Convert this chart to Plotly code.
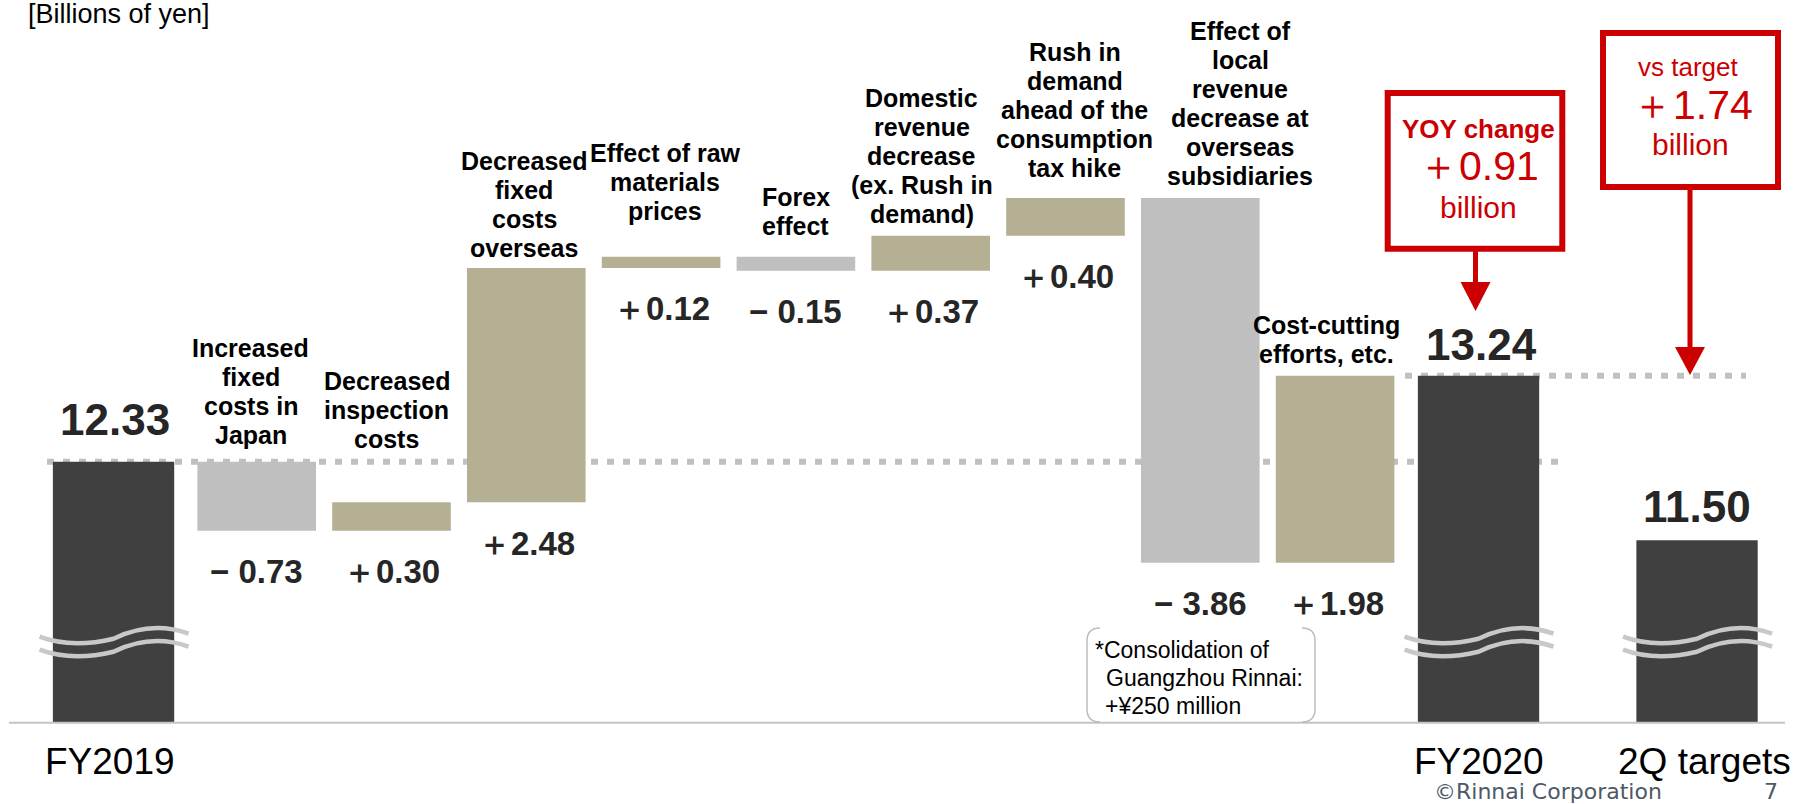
import plotly.graph_objects as go

# ---------------- data ----------------
start_label = "FY2019"
start_value = 12.33
step_labels = [
    "Increased<br>fixed<br>costs in<br>Japan",
    "Decreased<br>inspection<br>costs",
    "Decreased<br>fixed<br>costs<br>overseas",
    "Effect of raw<br>materials<br>prices",
    "Forex<br>effect",
    "Domestic<br>revenue<br>decrease<br>(ex. Rush in<br>demand)",
    "Rush in<br>demand<br>ahead of the<br>consumption<br>tax hike",
    "Effect of<br>local<br>revenue<br>decrease at<br>overseas<br>subsidiaries",
    "Cost-cutting<br>efforts, etc.",
]
step_values = [-0.73, 0.30, 2.48, 0.12, -0.15, 0.37, 0.40, -3.86, 1.98]
end_label = "FY2020"
end_value = 13.24
target_label = "2Q targets"
target_value = 11.50
unit_text = "[Billions of yen]"
note_lines = ["*Consolidation of", "Guangzhou Rinnai:", "+¥250 million"]
footer_text = "©Rinnai Corporation"
page_no = "7"

yoy_change = round(end_value - start_value, 2)
vs_target = round(end_value - target_value, 2)

# ---------------- layout constants ----------------
W, H = 1806, 804
ML, MR, MT, MB = 9, 21, 0, 82
PLOT_W = W - ML - MR
PLOT_H = H - MT - MB
UNIT = 134.8          # px per slot
X0_PX = 121.9         # px of slot 0
PPB = 94.5            # px per billion yen
REF_PY = 461.7        # px of the FY2019 level
x_slots = [-0.062, 1, 2, 3, 4, 5, 6, 7, 8, 9, 10.064, 11.685]
bar_width = 0.88
total_width = 0.9

DARK = "#404040"
GRAY = "#bfbfbf"
KHAKI = "#b5b093"
RED = "#cc0000"
DOT = "#c0c0c0"
TXT = "Liberation Sans, Arial, sans-serif"
NUM = "Liberation Sans Narrow, Arial Narrow, Liberation Sans, Arial, sans-serif"


def sx(slot):
    return X0_PX + slot * UNIT


def vy(v):
    return REF_PY - (v - start_value) * PPB


def xp(px):
    return (px - ML) / PLOT_W


def yp(py):
    return (MT + PLOT_H - py) / PLOT_H


def ann(text, px, py, size, color="#000000", family=TXT, weight="normal",
        xanchor="center", yanchor="middle"):
    return dict(text=text, x=xp(px), y=yp(py), xref="paper", yref="paper",
                showarrow=False, xanchor=xanchor, yanchor=yanchor,
                font=dict(size=size, color=color, family=family, weight=weight))


# ---------------- traces ----------------
wf_x = x_slots[:11]
wf_y = [start_value] + step_values + [0]
wf_measure = ["absolute"] + ["relative"] * len(step_values) + ["total"]
wf_width = [total_width] + [bar_width] * len(step_values) + [total_width]

fig = go.Figure()
fig.add_trace(go.Waterfall(
    x=wf_x, y=wf_y, measure=wf_measure, width=wf_width,
    increasing=dict(marker=dict(color=KHAKI, line=dict(width=0))),
    decreasing=dict(marker=dict(color=GRAY, line=dict(width=0))),
    totals=dict(marker=dict(color=DARK, line=dict(width=0))),
    connector=dict(visible=False), textinfo="none", hoverinfo="skip",
    showlegend=False,
))
fig.add_trace(go.Bar(
    x=[x_slots[11]], y=[target_value], width=total_width,
    marker=dict(color=DARK, line=dict(width=0)), hoverinfo="skip",
    showlegend=False,
))

# ---------------- annotations ----------------
annotations = []
shapes = []

# cumulative levels
levels = [start_value]
for v in step_values:
    levels.append(round(levels[-1] + v, 2))

label_lift = [18, 54, 11, 37, 22, 13, 21, 13, 13]
label_dx = [-6, -5, -2, 4, 0, -9, 9, 40, -9]
LINE_PITCH = 29
for k, (lab, v) in enumerate(zip(step_labels, step_values)):
    slot = x_slots[k + 1]
    prev, cur = levels[k], levels[k + 1]
    top, bottom = max(prev, cur), min(prev, cur)
    lines = lab.split("<br>")
    n = len(lines)
    for i, line in enumerate(lines):
        base = vy(top) - label_lift[k] - (n - 1 - i) * LINE_PITCH
        annotations.append(ann(line, sx(slot) + label_dx[k], base - 9, 25,
                               weight="bold"))
    vtxt = f"＋{v:.2f}" if v > 0 else f"− {abs(v):.2f}"
    annotations.append(ann(vtxt, sx(slot), vy(bottom) + 41, 33, "#262626",
                           NUM, "bold"))

# totals
annotations.append(ann(f"{start_value:.2f}", sx(x_slots[0]) + 1,
                       vy(start_value) - 42, 44, "#262626", NUM, "bold"))
annotations.append(ann(f"{end_value:.2f}", sx(x_slots[10]) + 2.5,
                       vy(end_value) - 31, 44, "#262626", NUM, "bold"))
annotations.append(ann(f"{target_value:.2f}", sx(x_slots[11]),
                       vy(target_value) - 34, 44, "#262626", NUM, "bold"))

# category tick labels
for slot, lab, dx in [(x_slots[0], start_label, -4), (x_slots[10], end_label, 0),
                      (x_slots[11], target_label, 7.5)]:
    annotations.append(ann(lab, sx(slot) + dx, 761.5, 37))

# unit text
annotations.append(ann(unit_text, 26, 14, 27, xanchor="left"))

# note
for txt, lx, cy in zip(note_lines, [1093, 1104, 1103], [650, 678, 706]):
    annotations.append(ann(txt, lx, cy, 23, xanchor="left"))

# red boxes text
cx1 = sx(x_slots[10])
cx2 = sx(x_slots[11]) - 7
annotations += [
    ann("YOY change", cx1, 129, 26, RED, TXT, "bold"),
    ann(f"＋{yoy_change:.2f}", cx1, 166, 41, RED, NUM),
    ann("billion", cx1, 207, 30, RED),
    ann("vs target", cx2 - 2, 67, 26, RED),
    ann(f"＋{vs_target:.2f}", cx2 + 2, 105, 41, RED, NUM),
    ann("billion", cx2, 145, 30, RED),
]

# footer
annotations.append(ann(footer_text, 1432, 791, 22, "#4d5966",
                       "DejaVu Sans, sans-serif", xanchor="left"))
annotations.append(ann(page_no, 1771, 791, 22, "#4d5966",
                       "DejaVu Sans, sans-serif"))

# ---------------- shapes ----------------
# dotted reference lines (behind bars)
shapes.append(dict(type="line", xref="paper", yref="y",
                   x0=xp(47), x1=xp(1560), y0=start_value, y1=start_value,
                   layer="below", line=dict(color=DOT, width=6, dash="7px,9px")))
shapes.append(dict(type="line", xref="paper", yref="y",
                   x0=xp(1405), x1=xp(1746), y0=levels[-1], y1=levels[-1],
                   layer="below", line=dict(color=DOT, width=6, dash="7px,9px")))

# base line
shapes.append(dict(type="line", xref="paper", yref="paper",
                   x0=0, x1=1, y0=yp(722.7), y1=yp(722.7),
                   line=dict(color="#c4c4c4", width=2)))


def squiggle(cx, y0):
    pts = [(-74, 0), (-50, 9), (-25, 8), (0, 2), (25, -10), (50, -12), (75, -3)]
    p = [(xp(cx + dx), yp(y0 + dy)) for dx, dy in pts]
    return (f"M {p[0][0]},{p[0][1]} C {p[1][0]},{p[1][1]} {p[2][0]},{p[2][1]} "
            f"{p[3][0]},{p[3][1]} C {p[4][0]},{p[4][1]} {p[5][0]},{p[5][1]} "
            f"{p[6][0]},{p[6][1]}")


for slot in (x_slots[0], x_slots[10], x_slots[11]):
    for off in (0, 13):
        shapes.append(dict(type="path", xref="paper", yref="paper",
                           path=squiggle(sx(slot), 636.7 + off),
                           line=dict(color="#c8c8c8", width=4.5)))

# note brackets
def bracket(x_edge, x_arm):
    return (f"M {xp(x_arm)},{yp(628)} Q {xp(x_edge)},{yp(628)} {xp(x_edge)},{yp(641)} "
            f"L {xp(x_edge)},{yp(709)} Q {xp(x_edge)},{yp(722)} {xp(x_arm)},{yp(722)}")


shapes.append(dict(type="path", xref="paper", yref="paper", path=bracket(1087, 1100),
                   line=dict(color="#bdbdbd", width=1.5)))
shapes.append(dict(type="path", xref="paper", yref="paper", path=bracket(1315, 1302),
                   line=dict(color="#bdbdbd", width=1.5)))

# red boxes
for x0, x1, y0, y1 in [(1387.7, 1562.3, 93, 248.7), (1603, 1778, 33, 187)]:
    shapes.append(dict(type="rect", xref="paper", yref="paper",
                       x0=xp(x0), x1=xp(x1), y0=yp(y0), y1=yp(y1),
                       line=dict(color=RED, width=6), fillcolor="rgba(0,0,0,0)"))

# arrows
for ax, y_from, y_head, y_tip in [(cx1 - 3, 251, 282, 311), (1690, 190, 347, 375)]:
    shapes.append(dict(type="line", xref="paper", yref="paper",
                       x0=xp(ax), x1=xp(ax), y0=yp(y_from), y1=yp(y_head + 2),
                       line=dict(color=RED, width=5)))
    shapes.append(dict(type="path", xref="paper", yref="paper",
                       path=(f"M {xp(ax - 15)},{yp(y_head)} L {xp(ax + 15)},{yp(y_head)} "
                             f"L {xp(ax)},{yp(y_tip)} Z"),
                       fillcolor=RED, line=dict(color=RED, width=0)))

fig.update_layout(
    width=W, height=H, autosize=False,
    margin=dict(l=ML, r=MR, t=MT, b=MB, pad=0),
    paper_bgcolor="white", plot_bgcolor="white",
    xaxis=dict(range=[(ML - X0_PX) / UNIT, (ML + PLOT_W - X0_PX) / UNIT],
               visible=False, fixedrange=True),
    yaxis=dict(range=[start_value - (MT + PLOT_H - REF_PY) / PPB,
                      start_value + (REF_PY - MT) / PPB],
               visible=False, fixedrange=True),
    showlegend=False,
    annotations=annotations,
    shapes=shapes,
)

fig.write_html("out.html")
